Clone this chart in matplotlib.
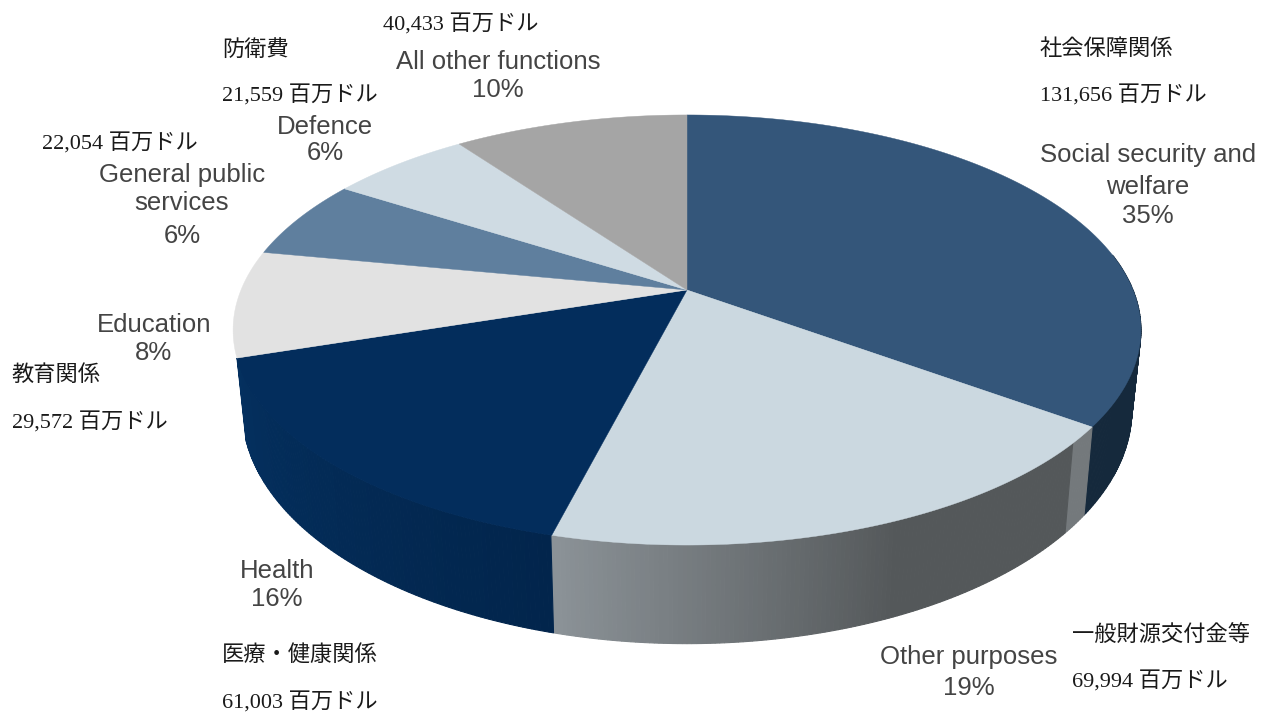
import numpy as np
import matplotlib
matplotlib.use("Agg")
import matplotlib.pyplot as plt
from matplotlib.colors import to_rgb

W, H = 1262, 712

# ---- data ----
categories = ["Social security and\nwelfare", "Other purposes", "Health", "Education",
              "General public\nservices", "Defence", "All other functions"]
percents = [35, 19, 16, 8, 6, 6, 10]
names_jp = ["社会保障関係", "一般財源交付金等", "医療・健康関係", "教育関係", "", "防衛費", ""]
amounts = ["131,656", "69,994", "61,003", "29,572", "22,054", "21,559", "40,433"]
unit = "百万ドル"

# ---- style / layout ----
top_colors = ["#34567A", "#CBD8E0", "#032D5C", "#E2E2E2", "#5F7F9E", "#CFDBE3", "#A5A5A5"]
CX, CY = 687, 290          # apex of the pie
RX, RY, K = 446, 207.6, 0.186   # perspective ellipse of the top face
SX, Y0, RYL = 0.98, 366, 226    # lower rim

label_xy = [(1148, [155, 187, 216]), (969, [657, 688]), (277, [571, 599]), (154, [325, 353]),
            (182, [175, 203, 236]), (325, [127, 153]), (498, [62, 90])]
name_xy = [(1040, 50), (1072, 636), (222, 656), (12, 376), None, (222, 50), None]
amount_xy = [(1040, 96), (1072, 682), (222, 703), (12, 423), (42, 144), (222, 96), (383, 25)]


def top_pt(deg):
    t = np.radians(deg)
    u, v = np.sin(t), np.cos(t)
    w = 1 + K * v
    return CX + RX * u / w, CY - RY * v / w


def low_pt(deg):
    t = np.radians(deg)
    u, v = np.sin(t), np.cos(t)
    w = 1 + K * v
    return CX + SX * RX * u / w, Y0 - RYL * v / w


def side_color(deg, bounds):
    """Shading of the outer wall, per slice."""
    d0, d1 = bounds[0], bounds[1]
    if deg < d0:                       # Social security wall
        return np.array(to_rgb("#15293C"))
    if deg < d1:                       # Other purposes wall: light grey -> dark grey, going right
        f = (d1 - deg) / (d1 - d0)
        a, b = np.array(to_rgb("#8C9398")), np.array(to_rgb("#54585A"))
        if f > 0.94:
            return np.array(to_rgb("#74797C"))
        return a + (b - a) * min(f / 0.55, 1)
    f = (deg - d1) / (bounds[2] - d1)  # Health wall
    a, b = np.array(to_rgb("#02254C")), np.array(to_rgb("#04305F"))
    return a + (b - a) * f


edges = np.concatenate([[0], np.cumsum(percents)]) * 3.6

fig = plt.figure(figsize=(W / 100, H / 100), dpi=100)
ax = fig.add_axes([0, 0, 1, 1])
ax.set_xlim(0, W)
ax.set_ylim(H, 0)
ax.axis("off")

# outer wall
degs = np.arange(80, edges[3] + 0.5, 0.5)
for a, b in zip(degs[:-1], degs[1:]):
    xa, ya = top_pt(a)
    xb, yb = top_pt(b)
    xc, yc = low_pt(b)
    xd, yd = low_pt(a)
    col = side_color(a, edges[1:4])
    ax.fill([xa, xb, xc, xd], [ya, yb, yc, yd], color=col, lw=0.8, zorder=2)

# top face
for i, col in enumerate(top_colors):
    th = np.linspace(edges[i], edges[i + 1], 120)
    xs, ys = top_pt(th)
    ax.fill(np.r_[CX, xs], np.r_[CY, ys], color=col, lw=0.3, zorder=3)

# English labels
for cat, pct, (x, ys) in zip(categories, percents, label_xy):
    lines = cat.split("\n") + [f"{pct}%"]
    for line, y in zip(lines, ys):
        ax.text(x, y, line, ha="center", va="center", color="#444444", fontsize=18.5,
                family=["Liberation Sans"], zorder=5)

# Japanese annotations
jp = ["Liberation Serif", "Noto Sans CJK JP"]
for nm, xy in zip(names_jp, name_xy):
    if nm and xy:
        ax.text(xy[0], xy[1], nm, ha="left", va="center", color="#1a1a1a", fontsize=16,
                family=jp, zorder=5)
for am, xy in zip(amounts, amount_xy):
    ax.text(xy[0], xy[1], f"{am} {unit}", ha="left", va="center", color="#1a1a1a", fontsize=16,
            family=jp, zorder=5)

fig.savefig("out.png", dpi=100, facecolor="white")
